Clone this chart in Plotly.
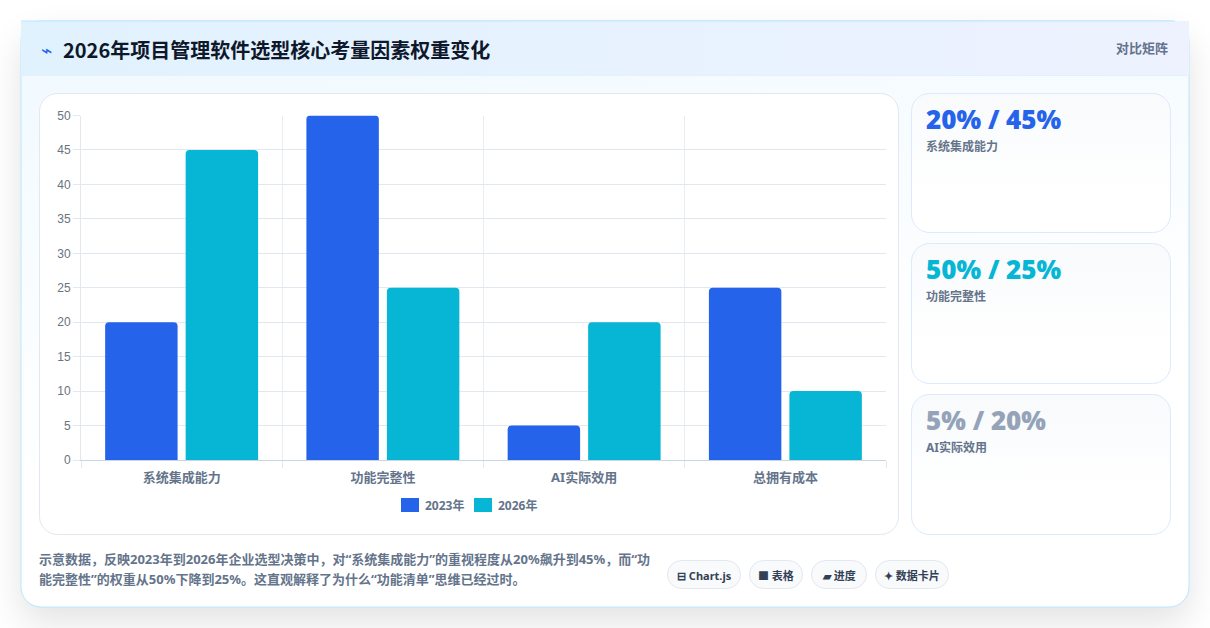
import base64
import plotly.graph_objects as go

categories = ["系统集成能力", "功能完整性", "AI实际效用", "总拥有成本"]
values_2023 = [20, 50, 5, 25]
values_2026 = [45, 25, 20, 10]
series_names = ["2023年", "2026年"]
y_ticks = [0, 5, 10, 15, 20, 25, 30, 35, 40, 45, 50]

title_text = "2026年项目管理软件选型核心考量因素权重变化"
footer_lines = [
    "示意数据，反映2023年到2026年企业选型决策中，对“系统集成能力”的重视程度从20%飙升到45%，而“功",
    "能完整性”的权重从50%下降到25%。这直观解释了为什么“功能清单”思维已经过时。",
]
stat_cards = [
    ("20% / 45%", "系统集成能力", "#2563eb", 93, 233),
    ("50% / 25%", "功能完整性", "#06b6d4", 243, 384),
    ("5% / 20%", "AI实际效用", "#94a3b8", 394, 535),
]
chips = [
    ("⊟ Chart.js", 667, 741),
    ("■ 表格", 749, 803),
    ("▰ 进度", 811, 867),
    ("✦ 数据卡片", 875, 949),
]

W, H = 1210, 628
MT, MB = 40, 40
BLUE, CYAN = "#2563eb", "#06b6d4"
CJK = "Noto Sans, Noto Sans CJK SC"


def px(x):
    return x / W


def py(y):
    return 1 - (y - MT) / (H - MT - MB)


stat_svg = "".join(
    f'<rect x="911.5" y="{t + .5}" width="259" height="{b - t - 1}" rx="18" fill="url(#side)" stroke="#dbeafe"/>'
    for _, _, _, t, b in stat_cards
)
chip_svg = "".join(
    f'<rect x="{a + .5}" y="560.5" width="{b - a - 1}" height="28" rx="14" fill="#f8fafc" stroke="#e2e8f0"/>'
    for _, a, b in chips
)
svg = f'''<svg xmlns="http://www.w3.org/2000/svg" width="{W}" height="{H}" viewBox="0 0 {W} {H}">
<defs>
<linearGradient id="body" x1="0" y1="0" x2="0.25" y2="1"><stop offset="0" stop-color="#f0f9ff"/><stop offset="0.75" stop-color="#ffffff"/></linearGradient>
<linearGradient id="head" x1="0" y1="0" x2="1" y2="0"><stop offset="0" stop-color="#e0f2fe"/><stop offset="1" stop-color="#eef2ff"/></linearGradient>
<linearGradient id="side" x1="0" y1="0" x2="0" y2="1"><stop offset="0" stop-color="#f8fafc"/><stop offset="0.7" stop-color="#ffffff"/></linearGradient>
<filter id="sh" x="-10%" y="-10%" width="120%" height="125%"><feGaussianBlur stdDeviation="18"/></filter>
</defs>
<rect x="21" y="37" width="1168" height="586" rx="20" fill="#000000" opacity="0.11" filter="url(#sh)"/>
<rect x="21" y="21" width="1168" height="586" rx="20" fill="url(#body)" stroke="#bae6fd"/>
<rect x="21" y="21" width="1168" height="54.5" fill="url(#head)"/>
<line x1="21" y1="21" x2="1175" y2="21" stroke="#bae6fd"/>
<line x1="21" y1="75.5" x2="1189" y2="75.5" stroke="#e0f2fe"/>
<rect x="39.5" y="93.5" width="859" height="441" rx="18" fill="#ffffff" stroke="#e2e8f0"/>
{stat_svg}{chip_svg}
</svg>'''
bg = "data:image/svg+xml;base64," + base64.b64encode(svg.encode("utf-8")).decode()

fig = go.Figure()
fig.add_bar(name=series_names[0], x=categories, y=values_2023, marker=dict(color=BLUE, line_width=0))
fig.add_bar(name=series_names[1], x=categories, y=values_2026, marker=dict(color=CYAN, line_width=0))


def note(text, x, y, size, color, weight=400, anchor="left", family=CJK):
    fig.add_annotation(
        text=text, x=px(x), y=py(y), xref="paper", yref="paper", xanchor=anchor, yanchor="middle",
        showarrow=False, align="left", borderpad=0,
        font=dict(size=size, color=color, family=family, weight=weight),
    )


note("⌁", 40, 50, 19, BLUE, family="DejaVu Sans")
note(title_text, 61.5, 49.5, 20, "#0f172a", 700, family="Noto Sans CJK SC")
note("对比矩阵", 1169, 48, 13, "#64748b", 700, "right")
for big, small, color, top, _ in stat_cards:
    note(big, 925, top + 26, 26, color, 800, family="Open Sans")
    note(small, 924.5, top + 53, 12, "#64748b", 700)
note(footer_lines[0], 37.5, 559, 13, "#64748b", 700)
note(footer_lines[1], 37.5, 579, 13, "#64748b", 700)
for text, a, b in chips:
    note(text, (a + b) / 2, 575, 11, "#334155", 700, "center")

fig.update_layout(
    width=W, height=H, margin=dict(l=0, r=0, t=MT, b=MB), autosize=False,
    paper_bgcolor="#ffffff", plot_bgcolor="rgba(0,0,0,0)",
    barmode="group", bargap=0.2, bargroupgap=0.1, barcornerradius=4,
    showlegend=True,
    legend=dict(
        orientation="h", x=px(385), y=py(505),
        xanchor="left", yanchor="middle", entrywidth=28, entrywidthmode="pixels",
        font=dict(size=12, color="#64748b", family=CJK, weight=700),
        bgcolor="rgba(0,0,0,0)", itemclick=False, itemdoubleclick=False,
    ),
    images=[dict(source=bg, xref="paper", yref="paper", x=0, y=py(0), sizex=1, sizey=H / (H - MT - MB),
                 xanchor="left", yanchor="top", sizing="stretch", layer="below")],
    xaxis=dict(
        domain=[px(81), px(886)], tickson="boundaries", ticks="outside", ticklen=7, tickcolor="#e2e8f0",
        showgrid=True, gridcolor="#e8edf3", gridwidth=1, showline=True, linecolor="#cbd5e1", zeroline=False,
        ticklabelstandoff=5,
        tickfont=dict(size=13, color="#64748b", family=CJK, weight=700),
    ),
    yaxis=dict(
        domain=[py(460), py(115.5)], range=[0, 50], tickvals=y_ticks, ticks="outside", ticklen=7, tickcolor="#e2e8f0",
        showgrid=True, gridcolor="#e2e8f0", gridwidth=1, showline=True, linecolor="#e2e8f0", zeroline=False,
        tickfont=dict(size=12, color="#6b7280", family="Liberation Sans"),
    ),
)

post = """
document.body.style.margin='0';
document.querySelectorAll('.legendpoints path').forEach(function(p){
  p.setAttribute('d','M14,7H-4V-7H14Z');
});
document.querySelectorAll('.legend .scrollbox').forEach(function(e){
  e.removeAttribute('clip-path');
});
"""
fig.write_html("out.html", post_script=post, config={"displayModeBar": False})
